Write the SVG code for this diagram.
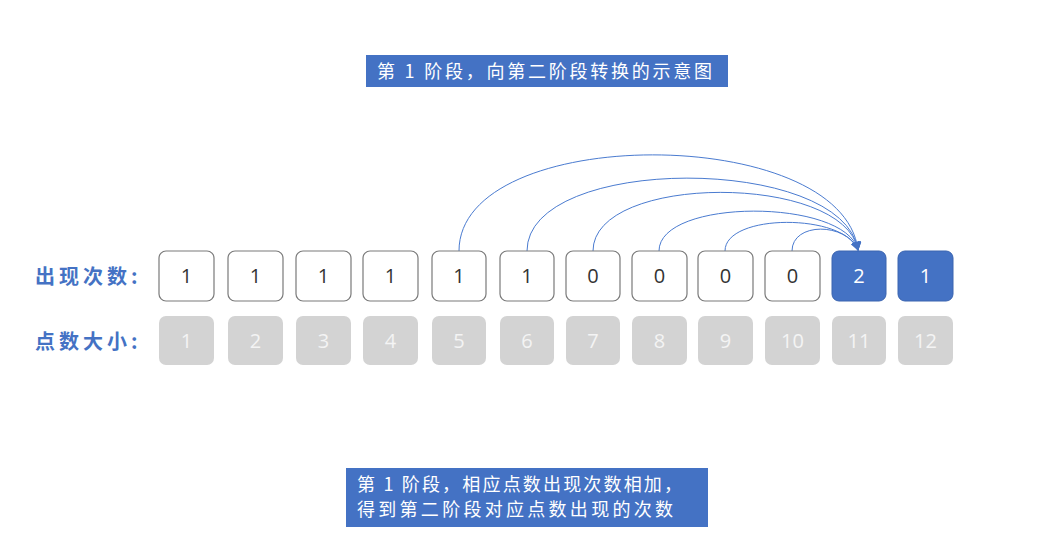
<svg xmlns="http://www.w3.org/2000/svg" width="1048" height="552" viewBox="0 0 1048 552">
<defs>
<style>
.cap{fill:#4472C4}
.capt{fill:#fff;font-family:"Noto Sans CJK SC","Noto Sans",sans-serif;font-size:18px}
.lbl{fill:#4472C4;font-family:"Noto Sans CJK SC",sans-serif;font-size:20px;font-weight:bold}
.wb{fill:#fff;stroke:#7a7a7a;stroke-width:1.2}
.bb{fill:#4472C4;stroke:#3a64b0;stroke-width:1}
.gb{fill:#d3d3d3}
.num{font-family:"Open Sans","Noto Sans",sans-serif;font-size:20px;text-anchor:middle}
.dk{fill:#333}
.wt{fill:#fff}
.gt{fill:#f4f4f4}
.arc{fill:none;stroke:#4a7bd0;stroke-width:1}
</style>
<marker id="ah" viewBox="0 0 10 10" refX="9" refY="5" markerWidth="9" markerHeight="9" markerUnits="userSpaceOnUse" orient="auto">
<path d="M0,0 L10,5 L0,10 Z" fill="#4472C4"/>
</marker>
</defs>
<rect width="1048" height="552" fill="#fff"/>

<g id="title">
<rect class="cap" x="366" y="55" width="362" height="32"/>
<text class="capt" x="377" y="77.5" textLength="335" lengthAdjust="spacing">第 1 阶段，向第二阶段转换的示意图</text>
</g>

<g id="label-count"><text class="lbl" x="35" y="284" letter-spacing="4">出现次数:</text></g>
<g id="label-size"><text class="lbl" x="35" y="349" letter-spacing="4">点数大小:</text></g>

<g id="connectors">
<path class="arc" d="M459,251 C459,123 842,123 858,250" marker-end="url(#ah)"/>
<path class="arc" d="M527,251 C527,154 843,154 858,250" marker-end="url(#ah)"/>
<path class="arc" d="M593,251 C593,173 844,173 858,250" marker-end="url(#ah)"/>
<path class="arc" d="M659,251 C659,198 845,198 858,250" marker-end="url(#ah)"/>
<path class="arc" d="M725,251 C725,213 845,213 858,250" marker-end="url(#ah)"/>
<path class="arc" d="M792,251 C792,222 846,222 858,250" marker-end="url(#ah)"/>
</g>

<g id="c1"><rect class="wb" x="159" y="251" width="55" height="50" rx="7"/><text class="num dk" x="186.5" y="283">1</text></g>
<g id="c2"><rect class="wb" x="228" y="251" width="55" height="50" rx="7"/><text class="num dk" x="255.5" y="283">1</text></g>
<g id="c3"><rect class="wb" x="296" y="251" width="55" height="50" rx="7"/><text class="num dk" x="323.5" y="283">1</text></g>
<g id="c4"><rect class="wb" x="363" y="251" width="55" height="50" rx="7"/><text class="num dk" x="390.5" y="283">1</text></g>
<g id="c5"><rect class="wb" x="432" y="251" width="54" height="50" rx="7"/><text class="num dk" x="459" y="283">1</text></g>
<g id="c6"><rect class="wb" x="500" y="251" width="54" height="50" rx="7"/><text class="num dk" x="527" y="283">1</text></g>
<g id="c7"><rect class="wb" x="566" y="251" width="54" height="50" rx="7"/><text class="num dk" x="593" y="283">0</text></g>
<g id="c8"><rect class="wb" x="632" y="251" width="55" height="50" rx="7"/><text class="num dk" x="659.5" y="283">0</text></g>
<g id="c9"><rect class="wb" x="698" y="251" width="55" height="50" rx="7"/><text class="num dk" x="725.5" y="283">0</text></g>
<g id="c10"><rect class="wb" x="765" y="251" width="55" height="50" rx="7"/><text class="num dk" x="792.5" y="283">0</text></g>
<g id="c11"><rect class="bb" x="832" y="251" width="54" height="50" rx="7"/><text class="num wt" x="859" y="283">2</text></g>
<g id="c12"><rect class="bb" x="898" y="251" width="55" height="50" rx="7"/><text class="num wt" x="925.5" y="283">1</text></g>

<g id="s1"><rect class="gb" x="159" y="316" width="55" height="49" rx="7"/><text class="num gt" x="186.5" y="348">1</text></g>
<g id="s2"><rect class="gb" x="228" y="316" width="55" height="49" rx="7"/><text class="num gt" x="255.5" y="348">2</text></g>
<g id="s3"><rect class="gb" x="296" y="316" width="55" height="49" rx="7"/><text class="num gt" x="323.5" y="348">3</text></g>
<g id="s4"><rect class="gb" x="363" y="316" width="55" height="49" rx="7"/><text class="num gt" x="390.5" y="348">4</text></g>
<g id="s5"><rect class="gb" x="432" y="316" width="54" height="49" rx="7"/><text class="num gt" x="459" y="348">5</text></g>
<g id="s6"><rect class="gb" x="500" y="316" width="54" height="49" rx="7"/><text class="num gt" x="527" y="348">6</text></g>
<g id="s7"><rect class="gb" x="566" y="316" width="54" height="49" rx="7"/><text class="num gt" x="593" y="348">7</text></g>
<g id="s8"><rect class="gb" x="632" y="316" width="55" height="49" rx="7"/><text class="num gt" x="659.5" y="348">8</text></g>
<g id="s9"><rect class="gb" x="698" y="316" width="55" height="49" rx="7"/><text class="num gt" x="725.5" y="348">9</text></g>
<g id="s10"><rect class="gb" x="765" y="316" width="55" height="49" rx="7"/><text class="num gt" x="792.5" y="348">10</text></g>
<g id="s11"><rect class="gb" x="832" y="316" width="54" height="49" rx="7"/><text class="num gt" x="859" y="348">11</text></g>
<g id="s12"><rect class="gb" x="898" y="316" width="55" height="49" rx="7"/><text class="num gt" x="925.5" y="348">12</text></g>

<g id="note">
<rect class="cap" x="346" y="468" width="362" height="59"/>
<text class="capt" x="357" y="490.5" textLength="325" lengthAdjust="spacing">第 1 阶段，相应点数出现次数相加，</text>
<text class="capt" x="357" y="515.5" textLength="316" lengthAdjust="spacing">得到第二阶段对应点数出现的次数</text>
</g>
</svg>
